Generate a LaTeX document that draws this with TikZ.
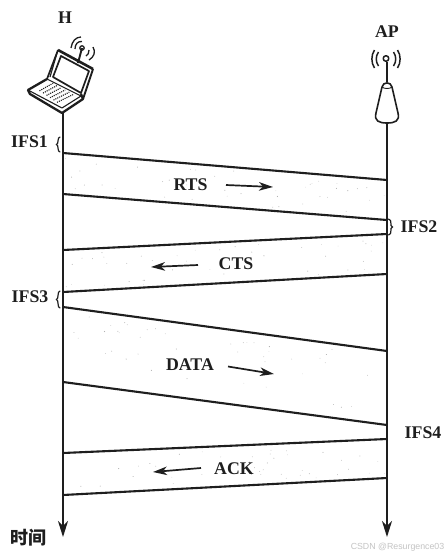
\documentclass[tikz,border=0pt]{standalone}
\usepackage{fontspec}
\usetikzlibrary{arrows.meta,calc}
\setmainfont{Liberation Serif}
\newfontfamily\cjkfont{Noto Sans CJK SC}
\newfontfamily\wmfont{Liberation Sans}
\definecolor{ink}{HTML}{1E1E1E}
\definecolor{wm}{HTML}{C4C4C4}
\tikzset{
  lbl/.style={font=\bfseries\fontsize{17.8}{22}\selectfont, text=ink, inner sep=0pt, yshift=-1pt},
  life/.style={line width=1.9pt, draw=ink, -{Stealth[length=16pt,width=10pt,inset=5pt]}},
  frame/.style={line width=2.1pt, draw=ink},
  dir/.style={line width=1.7pt, draw=ink, -{Stealth[length=14pt,width=8.5pt,inset=4pt]}},
  brace/.style={line width=1.2pt, draw=ink, line cap=round},
  icon/.style={draw=ink, line join=round},
  speck/.style={fill=ink!38, draw=none}
}
\begin{document}
\begin{tikzpicture}[x=1pt,y=-1pt]
\useasboundingbox[fill=white] (0,0) rectangle (448,558);
% lifeline ends
\coordinate (Htop) at (63,113);
\coordinate (Hend) at (63,537);
\coordinate (Atop) at (387,123);
\coordinate (Aend) at (387,537);
% frame corners
\foreach \n/\ya/\yb in {a/153/180, b/194/220, c/250/234, d/292/274, e/307/351, f/382/425, g/453/439, h/495/478}{
  \coordinate (L\n) at (63,\ya);
  \coordinate (R\n) at (387,\yb);
}
% speckles inside the frames
\pgfmathsetseed{4127}
\foreach \ya/\yb/\yc/\yd in {153/180/194/220, 250/234/292/274, 307/351/382/425, 453/439/495/478}{
  \foreach \i in {1,...,42}{
    \pgfmathsetmacro{\fx}{rnd}
    \pgfmathsetmacro{\fy}{0.08+0.84*rnd}
    \pgfmathsetmacro{\px}{63+324*\fx}
    \pgfmathsetmacro{\tp}{\ya+(\yb-\ya)*\fx}
    \pgfmathsetmacro{\bt}{\yc+(\yd-\yc)*\fx}
    \pgfmathsetmacro{\py}{\tp+(\bt-\tp)*\fy}
    \pgfmathsetmacro{\rr}{0.25+0.3*rnd}
    \fill[speck] (\px,\py) circle (\rr);
  }
}
% lifelines
\draw[life] (Htop) -- (Hend);
\draw[life] (Atop) -- (Aend);
% frames
\foreach \n in {a,b,c,d,e,f,g,h}{\draw[frame] (L\n) -- (R\n);}
% direction arrows
\coordinate (r1) at (226,185); \coordinate (r2) at (273,187);
\coordinate (c1) at (198,265); \coordinate (c2) at (151,267);
\coordinate (d1) at (228,366.5); \coordinate (d2) at (274,374);
\coordinate (k1) at (201,468); \coordinate (k2) at (153,472);
\draw[dir] (r1) -- (r2);
\draw[dir] (c1) -- (c2);
\draw[dir] (d1) -- (d2);
\draw[dir] (k1) -- (k2);
% labels
\node[lbl] (tH) at (65,17) {H};
\node[lbl] (tAP) at (387,31) {AP};
\node[lbl] (tRTS) at (190.5,184) {RTS};
\node[lbl] (tCTS) at (236,263) {CTS};
\node[lbl] (tDATA) at (190,363.5) {DATA};
\node[lbl] (tACK) at (234,468) {ACK};
\node[lbl] (tI1) at (29.5,141) {IFS1};
\node[lbl] (tI2) at (419,226) {IFS2};
\node[lbl] (tI3) at (30,296) {IFS3};
\node[lbl] (tI4) at (423,432) {IFS4};
\node[inner sep=0pt, text=ink, font=\cjkfont\bfseries\fontsize{18}{20}\selectfont] (tT) at (28,538) {时间};
\node[inner sep=0pt, text=wm, font=\wmfont\fontsize{8.8}{10}\selectfont, anchor=east] (tW) at (444.5,547) {CSDN @Resurgence03};
% braces
\draw[brace] (60,137) .. controls (57,137) and (59,144) .. (56.5,144.5) .. controls (59,145) and (57,152) .. (60,152);
\draw[brace] (60,291) .. controls (57,291) and (59,299) .. (56.5,299.5) .. controls (59,300) and (57,308) .. (60,308);
\draw[brace] (388.5,219) .. controls (393,220) and (389,226) .. (392.5,227) .. controls (389,228) and (393,234) .. (388.5,235);
% laptop
\fill[white] (58,50) -- (93,69) -- (83,99) -- (62,113) -- (28,90) -- (47,79) -- cycle;
\draw[icon, line width=2.6pt] (58,50) -- (93,69);
\draw[icon, line width=1.9pt] (93,69) -- (83,99);
\draw[icon, line width=1.7pt] (58,50) -- (47,79) (61,56) -- (53,77) -- (81,93) -- (89,71) -- cycle;
\draw[icon, line width=1.2pt] (57,53) -- (50,77);
\draw[icon, line width=2.3pt] (47,79) -- (28,90) -- (30,94) -- (62,113) -- (83,99) -- (81,94);
\draw[icon, line width=1.1pt] (47,79) -- (81,96) -- (62,108) -- (28,90);
\foreach \t in {0.14,0.28,...,0.9}{
  \draw[icon, line width=1.1pt, densely dotted] ($(36,88.5)!\t!(61,105)$) -- ($(49,81)!\t!(78,97)$);
}
% laptop antenna
\draw[icon, line width=1.9pt] (78,63) -- (82,48);
\draw[icon, line width=1.3pt] (82,48) circle (2.2);
\draw[icon, line width=1.3pt] (75,49) .. controls (75,44) and (78,41) .. (82,41.5);
\draw[icon, line width=1.3pt] (71,48) .. controls (72,41) and (76,37) .. (81,37);
\draw[icon, line width=1.3pt] (89,50) .. controls (89,53) and (88,55) .. (86,56);
\draw[icon, line width=1.3pt] (93,47) .. controls (96,52) and (94,57) .. (89,60);
% AP
\draw[icon, line width=2pt] (386.5,62) -- (386.5,82);
\draw[icon, line width=1.5pt] (386,58.5) circle (2.8);
\draw[icon, line width=1.5pt] (378.5,52) .. controls (375.5,56) and (375.5,62) .. (378.5,66);
\draw[icon, line width=1.5pt] (374.5,50) .. controls (371,55) and (371,63) .. (374.5,68);
\draw[icon, line width=1.5pt] (393.5,52) .. controls (396.5,56) and (396.5,62) .. (393.5,66);
\draw[icon, line width=1.5pt] (397.5,50) .. controls (401,55) and (401,63) .. (397.5,68);
\draw[icon, fill=white, line width=1.6pt] (382,87) .. controls (383,81.5) and (391,81.5) .. (392,87)
  -- (398,113) .. controls (400,121) and (395,123) .. (387,123) .. controls (379,123) and (374,121) .. (376,113) -- cycle;
\draw[icon, line width=0.9pt] (382,87) .. controls (384,89) and (390,89) .. (392,87);
\end{tikzpicture}
\end{document}
